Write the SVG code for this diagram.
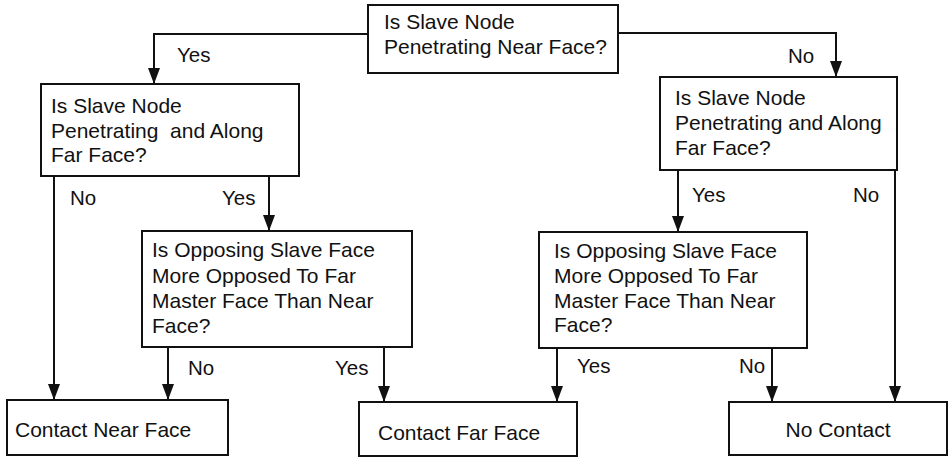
<svg xmlns="http://www.w3.org/2000/svg" width="949" height="458" viewBox="0 0 949 458">
<style>
  .box { fill: #ffffff; stroke: #111111; stroke-width: 2; }
  .t { font-family: "Liberation Sans", Arial, Helvetica, sans-serif; font-size: 21px; fill: #111111; }
  .lbl { font-family: "Liberation Sans", Arial, Helvetica, sans-serif; font-size: 20.5px; fill: #111111; }
  .edge { fill: none; stroke: #111111; stroke-width: 2; marker-end: url(#arrow); }
</style>
<defs>
  <marker id="arrow" viewBox="0 0 16 12" refX="16" refY="6" markerWidth="16" markerHeight="12" markerUnits="userSpaceOnUse" orient="auto">
    <path d="M0,0 L16,6 L0,12 Z" fill="#111111"/>
  </marker>
</defs>
<rect width="949" height="458" fill="#ffffff"/>

<g id="connectors">
  <path class="edge" d="M368,34 H154 V84"/>
  <path class="edge" d="M618,33 H836 V77"/>
  <path class="edge" d="M54,176 V400"/>
  <path class="edge" d="M269,176 V231"/>
  <path class="edge" d="M168,347 V400"/>
  <path class="edge" d="M384,347 V402"/>
  <path class="edge" d="M678,170 V232"/>
  <path class="edge" d="M895,170 V402"/>
  <path class="edge" d="M557,348 V402"/>
  <path class="edge" d="M772,348 V402"/>
  <text class="lbl" x="177" y="62">Yes</text>
  <text class="lbl" x="788" y="63">No</text>
  <text class="lbl" x="70" y="205">No</text>
  <text class="lbl" x="222" y="205">Yes</text>
  <text class="lbl" x="692" y="202">Yes</text>
  <text class="lbl" x="853" y="202">No</text>
  <text class="lbl" x="188" y="375">No</text>
  <text class="lbl" x="335" y="375">Yes</text>
  <text class="lbl" x="577" y="373">Yes</text>
  <text class="lbl" x="739" y="373">No</text>
</g>

<g id="q-near">
  <rect class="box" x="368" y="5" width="250" height="68"/>
  <text class="t" x="384" y="29">Is Slave Node</text>
  <text class="t" x="384" y="54">Penetrating Near Face?</text>
</g>

<g id="q-far-left">
  <rect class="box" x="41" y="84" width="258" height="92"/>
  <text class="t" x="51" y="113">Is Slave Node</text>
  <text class="t" x="51" y="138" xml:space="preserve">Penetrating  and Along</text>
  <text class="t" x="51" y="162">Far Face?</text>
</g>

<g id="q-far-right">
  <rect class="box" x="660" y="77" width="237" height="93"/>
  <text class="t" x="675" y="105">Is Slave Node</text>
  <text class="t" x="675" y="130">Penetrating and Along</text>
  <text class="t" x="675" y="155">Far Face?</text>
</g>

<g id="q-opp-left">
  <rect class="box" x="142" y="231" width="270" height="116"/>
  <text class="t" x="152" y="257">Is Opposing Slave Face</text>
  <text class="t" x="152" y="283">More Opposed To Far</text>
  <text class="t" x="152" y="308">Master Face Than Near</text>
  <text class="t" x="152" y="333">Face?</text>
</g>

<g id="q-opp-right">
  <rect class="box" x="539" y="232" width="268" height="116"/>
  <text class="t" x="554" y="258">Is Opposing Slave Face</text>
  <text class="t" x="554" y="283">More Opposed To Far</text>
  <text class="t" x="554" y="308">Master Face Than Near</text>
  <text class="t" x="554" y="332">Face?</text>
</g>

<g id="contact-near">
  <rect class="box" x="7" y="400" width="221" height="55"/>
  <text class="t" x="15" y="437">Contact Near Face</text>
</g>

<g id="contact-far">
  <rect class="box" x="359" y="402" width="218" height="54"/>
  <text class="t" x="378" y="440">Contact Far Face</text>
</g>

<g id="no-contact">
  <rect class="box" x="729" y="402" width="218" height="53"/>
  <text class="t" x="838" y="437" text-anchor="middle">No Contact</text>
</g>
</svg>
